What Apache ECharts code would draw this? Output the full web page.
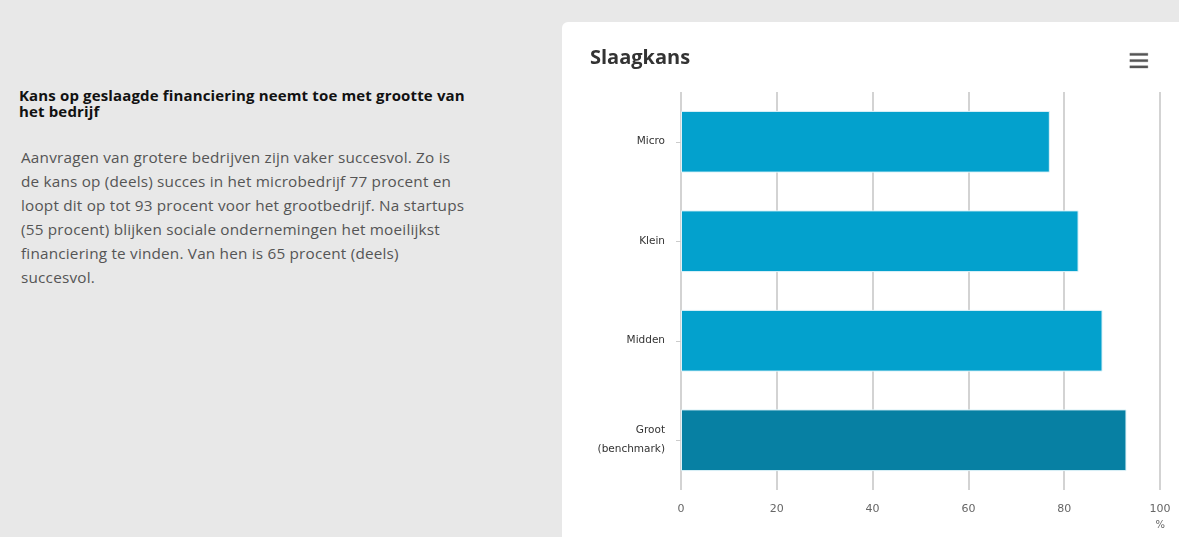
<!DOCTYPE html>
<html>
<head>
<meta charset="utf-8">
<script src="https://cdn.jsdelivr.net/npm/echarts@6/dist/echarts.min.js"></script>
<style>
  html, body { margin: 0; padding: 0; }
  body {
    width: 1179px; height: 537px; overflow: hidden;
    background: #e8e8e8; position: relative;
    font-family: "Open Sans", "Noto Sans", sans-serif;
  }
  .intro-title {
    position: absolute; left: 19px; top: 87px; width: 520px;
    font-size: 15px; font-weight: 700; color: #111; line-height: 16px;
    letter-spacing: 0.15px; white-space: nowrap;
  }
  .intro-text {
    position: absolute; left: 21px; top: 145px; width: 520px;
    font-size: 15.3px; color: #555; line-height: 24px;
    letter-spacing: 0.2px; white-space: nowrap;
  }
  .card {
    position: absolute; left: 562px; top: 22px; width: 617px; height: 515px;
    background: #fff; border-top-left-radius: 6px;
  }
  #chart { width: 617px; height: 515px; }
</style>
</head>
<body>
<div class="intro-title">Kans op geslaagde financiering neemt toe met grootte van<br>het bedrijf</div>
<div class="intro-text">Aanvragen van grotere bedrijven zijn vaker succesvol. Zo is<br>de kans op (deels) succes in het microbedrijf 77 procent en<br>loopt dit op tot 93 procent voor het grootbedrijf. Na startups<br>(55 procent) blijken sociale ondernemingen het moeilijkst<br>financiering te vinden. Van hen is 65 procent (deels)<br>succesvol.</div>
<div class="card"><div id="chart"></div></div>
<script>
  // categorieen en waarden (procent geslaagd)
  var categories = ['Micro', 'Klein', 'Midden', 'Groot\n(benchmark)'];
  var values = [77, 83, 88, 93];
  var xTicks = [0, 20, 40, 60, 80, 100];
  var benchmark = 3;

  var chart = echarts.init(document.getElementById('chart'));
  var option = {
    animation: false,
    title: {
      text: 'Slaagkans',
      left: 23, top: 21,
      textStyle: { fontFamily: 'Open Sans', fontSize: 20, fontWeight: 700, color: '#333' }
    },
    toolbox: {
      right: 16, top: 16,
      itemSize: 18,
      feature: {
        myMenu: {
          show: true,
          title: 'Menu',
          icon: 'path://M0,0H20V2.6H0Z M0,7H20V9.6H0Z M0,14H20V16.6H0Z',
          onclick: function () {}
        }
      },
      iconStyle: { color: '#555', borderColor: '#555', borderWidth: 0.3 }
    },
    grid: { left: 119, right: 19, top: 70, bottom: 47, containLabel: false },
    xAxis: {
      type: 'value',
      min: xTicks[0],
      max: xTicks[xTicks.length - 1],
      interval: 20,
      axisLine: { show: false },
      axisTick: { show: false },
      axisLabel: {
        color: '#666', fontSize: 11, margin: 14, fontFamily: 'DejaVu Sans'
      },
      splitLine: { show: true, lineStyle: { color: '#c4c4c4', width: 1.5 } }
    },
    yAxis: {
      type: 'category',
      data: categories,
      inverse: true,
      axisLine: { show: false },
      axisTick: { show: true, alignWithLabel: true, length: 5, lineStyle: { color: '#ccc' } },
      axisLabel: {
        color: '#333', fontSize: 10.5, lineHeight: 19, margin: 16,
        fontFamily: 'DejaVu Sans'
      }
    },
    graphic: [{
      type: 'text',
      right: 14, top: 498,
      style: { text: '%', fill: '#666', fontSize: 10, fontFamily: 'DejaVu Sans' }
    }],
    series: [{
      type: 'bar',
      data: values,
      barCategoryGap: '38%',
      itemStyle: {
        color: function (p) {
          return p.dataIndex === benchmark ? '#0780a3' : '#03a1cd';
        },
        borderColor: '#dff3f9',
        borderWidth: 1
      }
    }]
  };
  chart.setOption(option);
</script>
</body>
</html>
